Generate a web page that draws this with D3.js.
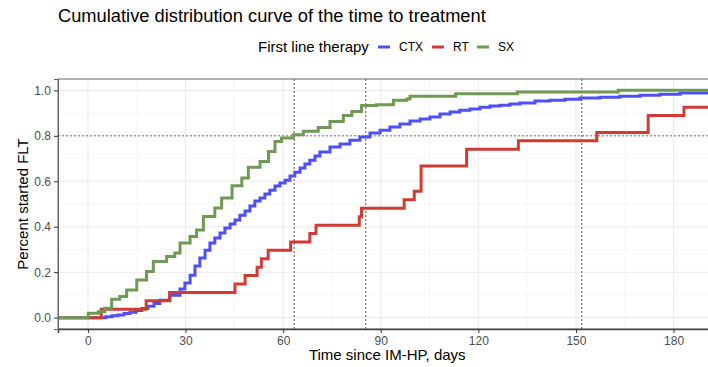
<!DOCTYPE html>
<html>
<head>
<meta charset="utf-8">
<script src="https://cdn.jsdelivr.net/npm/d3@7"></script>
<style>
  body { margin: 0; background: #fff; }
  text { font-family: "Liberation Sans", Arial, sans-serif; }
</style>
</head>
<body>
<svg id="chart" width="708" height="367"></svg>
<script>
// step points: day where the curve jumps, level after the jump
var ctxDays = [5.5, 7.4, 9.2, 11.1, 12.9, 14.8, 16.6, 18.4, 20.3, 22.1, 25.2, 28.3, 29.8, 31.4, 32.9, 34.4, 36.0, 37.5, 39.0, 40.6, 42.1, 43.7, 45.2, 46.7, 48.3, 49.8, 51.3, 52.9, 54.4, 55.9, 57.5, 59.0, 60.6, 62.1, 63.6, 65.2, 66.7, 68.2, 69.8, 71.3, 74.4, 77.5, 80.5, 83.6, 86.7, 89.8, 92.8, 95.9, 99.0, 102.1, 105.1, 108.2, 111.3, 114.3, 117.4, 120.5, 123.6, 126.7, 129.7, 132.8, 137.4, 142.0, 146.6, 151.2, 157.4, 163.5, 169.7, 175.8, 182.0]
var ctxPct = [0.004, 0.008, 0.012, 0.018, 0.024, 0.031, 0.040, 0.050, 0.062, 0.077, 0.099, 0.126, 0.152, 0.187, 0.227, 0.262, 0.297, 0.328, 0.350, 0.372, 0.394, 0.412, 0.430, 0.451, 0.469, 0.491, 0.513, 0.526, 0.544, 0.561, 0.579, 0.592, 0.605, 0.623, 0.640, 0.658, 0.676, 0.693, 0.711, 0.729, 0.751, 0.764, 0.781, 0.795, 0.812, 0.825, 0.839, 0.852, 0.865, 0.874, 0.883, 0.896, 0.905, 0.913, 0.918, 0.926, 0.931, 0.935, 0.940, 0.944, 0.953, 0.957, 0.961, 0.966, 0.970, 0.974, 0.979, 0.983, 0.988]

var rtDays = [4.1, 17.9, 25.1, 45.2, 48.3, 52.0, 53.3, 55.4, 62.3, 68.2, 70.1, 83.4, 84.1, 97.2, 100.3, 102.4, 116.4, 132.3, 156.4, 172.2, 183.2]
var rtPct = [0.037, 0.074, 0.111, 0.148, 0.185, 0.222, 0.259, 0.296, 0.333, 0.370, 0.407, 0.444, 0.481, 0.519, 0.556, 0.667, 0.741, 0.778, 0.815, 0.889, 0.926]

var sxDays = [0.1, 3.2, 5.2, 7.3, 9.8, 11.9, 15.0, 18.0, 20.1, 24.2, 26.7, 28.3, 31.4, 33.4, 35.5, 39.0, 41.1, 44.3, 47.3, 49.3, 52.9, 55.5, 57.5, 59.5, 63.1, 66.2, 70.8, 74.4, 78.5, 81.1, 84.1, 88.7, 93.9, 98.0, 99.0, 113.0, 132.0, 163.0]
var sxPct = [0.019, 0.026, 0.041, 0.081, 0.093, 0.122, 0.166, 0.203, 0.247, 0.269, 0.284, 0.328, 0.357, 0.386, 0.445, 0.482, 0.526, 0.580, 0.614, 0.662, 0.687, 0.731, 0.775, 0.790, 0.805, 0.820, 0.837, 0.863, 0.889, 0.907, 0.933, 0.937, 0.956, 0.962, 0.974, 0.985, 0.993, 1.0]

var groups = ["CTX", "RT", "SX"]
var groupColors = ["#4f4ff7", "#d03b33", "#6f9a53"]

var xTicks = [0, 30, 60, 90, 120, 150, 180]
var xMinor = [15, 45, 75, 105, 135, 165]
var yTicks = [0, 0.2, 0.4, 0.6, 0.8, 1.0]
var yMinor = [0.1, 0.3, 0.5, 0.7, 0.9]

var refDays = [63.4, 85.4, 151.8]
var refPct = 0.8

var titleText = "Cumulative distribution curve of the time to treatment"
var legendTitle = "First line therapy"
var xLabel = "Time since IM-HP, days"
var yLabel = "Percent started FLT"

var plot = {left: 58, right: 716.5, top: 79, bottom: 329}

var x = d3.scaleLinear()
    .domain([-9.2, 193.2])
    .range([plot.left, plot.right])

var y = d3.scaleLinear()
    .domain([-0.05, 1.05])
    .range([plot.bottom, plot.top])

var svg = d3.select("#chart")

svg.append("defs").append("clipPath")
    .attr("id", "panelClip")
    .append("rect")
    .attr("x", plot.left)
    .attr("y", plot.top)
    .attr("width", plot.right - plot.left)
    .attr("height", plot.bottom - plot.top)

// grid
var grid = svg.append("g")
grid.selectAll("line.minx").data(xMinor).enter().append("line")
    .attr("x1", function(d){ return x(d) }).attr("x2", function(d){ return x(d) })
    .attr("y1", plot.top).attr("y2", plot.bottom)
    .style("stroke", "#f0f0f0").style("stroke-width", 0.6)
grid.selectAll("line.miny").data(yMinor).enter().append("line")
    .attr("y1", function(d){ return y(d) }).attr("y2", function(d){ return y(d) })
    .attr("x1", plot.left).attr("x2", plot.right)
    .style("stroke", "#f0f0f0").style("stroke-width", 0.6)
grid.selectAll("line.majx").data(xTicks).enter().append("line")
    .attr("x1", function(d){ return x(d) }).attr("x2", function(d){ return x(d) })
    .attr("y1", plot.top).attr("y2", plot.bottom)
    .style("stroke", "#ebebeb").style("stroke-width", 1.1)
grid.selectAll("line.majy").data(yTicks).enter().append("line")
    .attr("y1", function(d){ return y(d) }).attr("y2", function(d){ return y(d) })
    .attr("x1", plot.left).attr("x2", plot.right)
    .style("stroke", "#ebebeb").style("stroke-width", 1.1)

// reference lines
var refs = svg.append("g")
refs.selectAll("line.vref").data(refDays).enter().append("line")
    .attr("x1", function(d){ return x(d) }).attr("x2", function(d){ return x(d) })
    .attr("y1", plot.top).attr("y2", plot.bottom)
    .style("stroke", "#555").style("stroke-width", 1)
    .style("stroke-dasharray", "2,2")
refs.append("line")
    .attr("x1", plot.left).attr("x2", plot.right)
    .attr("y1", y(refPct)).attr("y2", y(refPct))
    .style("stroke", "#777").style("stroke-width", 1)
    .style("stroke-dasharray", "2,2")

// ecdf steps
var series = [
    {days: ctxDays, pct: ctxPct},
    {days: rtDays, pct: rtPct},
    {days: sxDays, pct: sxPct}
]

var line = d3.line()
    .x(function(d){ return d[0] })
    .y(function(d){ return y(d[1]) })
    .curve(d3.curveStepAfter)

svg.append("g")
    .attr("clip-path", "url(#panelClip)")
    .selectAll("path")
    .data(series)
    .enter()
    .append("path")
    .attr("d", function(s){
        var pts = [[plot.left, 0]]
        s.days.forEach(function(d, i){ pts.push([x(d), s.pct[i]]) })
        pts.push([plot.right, s.pct[s.pct.length - 1]])
        return line(pts)
    })
    .style("fill", "none")
    .style("stroke", function(d, i){ return groupColors[i] })
    .style("stroke-width", 3)

// panel border
svg.append("rect")
    .attr("x", plot.left).attr("y", plot.top)
    .attr("width", plot.right - plot.left).attr("height", plot.bottom - plot.top)
    .style("fill", "none").style("stroke", "#666").style("stroke-width", 1)

// axes
var xAxis = d3.axisBottom(x).tickValues(xTicks).tickSize(4).tickPadding(3)
var yAxis = d3.axisLeft(y).tickValues(yTicks).tickSize(4).tickPadding(3)
    .tickFormat(d3.format(".1f"))

var gx = svg.append("g")
    .attr("transform", "translate(0," + plot.bottom + ")")
    .call(xAxis)
var gy = svg.append("g")
    .attr("transform", "translate(" + plot.left + ",0)")
    .call(yAxis)

gx.select(".domain").style("stroke", "#444").style("stroke-width", 1.6)
gy.select(".domain").style("stroke", "#666")
svg.selectAll(".tick line").style("stroke", "#333")
svg.selectAll(".tick text")
    .style("font-family", "Liberation Sans, Arial, sans-serif")
    .style("font-size", "12px")
    .style("fill", "#4d4d4d")

// titles
svg.append("text")
    .attr("x", plot.left)
    .attr("y", 22)
    .style("font-size", "18.3px")
    .style("fill", "#000")
    .text(titleText)

svg.append("text")
    .attr("x", (plot.left + plot.right) / 2)
    .attr("y", 360)
    .style("text-anchor", "middle")
    .style("font-size", "15px")
    .text(xLabel)

svg.append("text")
    .attr("transform", "rotate(-90)")
    .attr("x", -(plot.top + plot.bottom) / 2)
    .attr("y", 28)
    .style("text-anchor", "middle")
    .style("font-size", "15px")
    .text(yLabel)

// legend
var legend = svg.append("g").attr("transform", "translate(258,52)")
legend.append("text")
    .attr("x", 0).attr("y", 0)
    .style("font-size", "15px")
    .text(legendTitle)

var keyX = [120, 174, 219]
groups.forEach(function(g, i){
    legend.append("line")
        .attr("x1", keyX[i]).attr("x2", keyX[i] + 12)
        .attr("y1", -5).attr("y2", -5)
        .style("stroke", groupColors[i])
        .style("stroke-width", 3)
    legend.append("text")
        .attr("x", keyX[i] + 21).attr("y", -1)
        .style("font-size", "12px")
        .style("fill", "#000")
        .text(g)
})
</script>
</body>
</html>
